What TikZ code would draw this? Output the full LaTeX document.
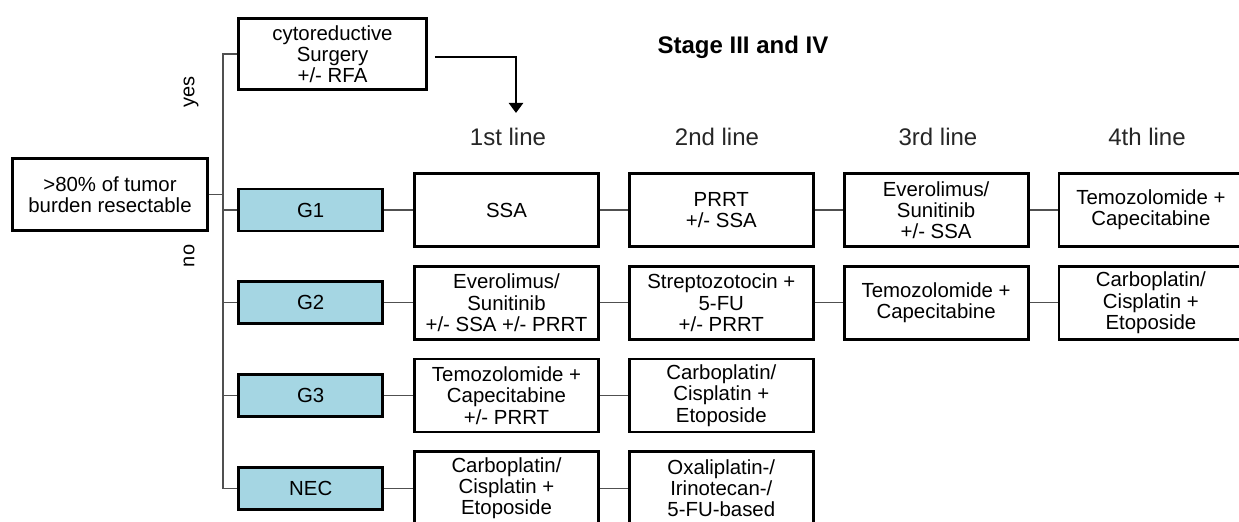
\documentclass[tikz,border=0pt]{standalone}
\usepackage{fontspec}
\setmainfont{Liberation Sans}
\usepackage{xcolor}
\usepackage{tikz}
\usetikzlibrary{arrows.meta, positioning}
\definecolor{gradeblue}{RGB}{165,214,227}
\definecolor{conngray}{RGB}{80,80,80}

\begin{document}
\begin{tikzpicture}[
  x=0.5pt, y=-0.5pt,
  node distance=8.5pt and 14pt,
  box/.style={rectangle, draw, line width=1.4pt, minimum width=92pt, minimum height=36.5pt, font=\fontsize{10.2}{10.6}\selectfont, align=center, inner sep=1pt},
  gbox/.style={box, fill=gradeblue, minimum width=72pt, minimum height=21pt},
  head/.style={font=\fontsize{12}{14}\selectfont, text=black!85},
  side/.style={font=\fontsize{10}{12}\selectfont, rotate=90},
  conn/.style={draw=conngray, line width=0.7pt},
  arr/.style={-{Triangle[length=5pt, width=7pt]}, line width=1.4pt}
]
\useasboundingbox (0,0) rectangle (1239,522);
\node[box, minimum width=97.5pt, minimum height=36pt] (resect) at (110,194.5) {>80\% of tumor\\burden resectable};
\node[box, minimum width=94pt, minimum height=35.5pt] (cyto) at (332.5,54) {cytoreductive\\Surgery\\+/- RFA};
\node[font=\fontsize{12}{14}\selectfont\bfseries] (stage) at (743,47) {Stage III and IV};
\node[side] (yes) at (191,92) {yes};
\node[side] (no) at (189,256) {no};
\coordinate (trunk) at (223,0);
\coordinate (tip1) at (516,113);
\node[head] (h1) at (508,137) {1st line};
\node[head] (h2) at (717,137) {2nd line};
\node[head] (h3) at (938,137) {3rd line};
\node[head] (h4) at (1147,137) {4th line};
\node[box] (r1c1) at (506.5,210) {SSA};
\node[box, right=of r1c1] (r1c2) {PRRT\\+/- SSA};
\node[box, right=of r1c2] (r1c3) {Everolimus/\\Sunitinib\\+/- SSA};
\node[box, right=of r1c3] (r1c4) {Temozolomide +\\Capecitabine};
\node[box, below=of r1c1] (r2c1) {Everolimus/\\Sunitinib\\+/- SSA +/- PRRT};
\node[box, below=of r1c2] (r2c2) {Streptozotocin +\\5-FU\\+/- PRRT};
\node[box, below=of r1c3] (r2c3) {Temozolomide +\\Capecitabine};
\node[box, below=of r1c4] (r2c4) {Carboplatin/\\Cisplatin +\\Etoposide};
\node[box, below=of r2c1] (r3c1) {Temozolomide +\\Capecitabine\\+/- PRRT};
\node[box, below=of r2c2] (r3c2) {Carboplatin/\\Cisplatin +\\Etoposide};
\node[box, below=of r3c1] (r4c1) {Carboplatin/\\Cisplatin +\\Etoposide};
\node[box, below=of r3c2] (r4c2) {Oxaliplatin-/\\Irinotecan-/\\5-FU-based};
\node[gbox, left=14.5pt of r1c1] (g1) {G1};
\node[gbox, left=14.5pt of r2c1] (g2) {G2};
\node[gbox, left=14.5pt of r3c1] (g3) {G3};
\node[gbox, left=14.5pt of r4c1] (nec) {NEC};
\draw[conn] (cyto.west) -| (trunk |- nec.west) -- (nec.west);
\draw[conn] (resect.east) -- (resect.east -| trunk);
\foreach \g in {g1, g2, g3}
  \draw[conn] (\g.west -| trunk) -- (\g.west);
\draw[conn] (g1) -- (r1c1) -- (r1c2) -- (r1c3) -- (r1c4);
\draw[conn] (g2) -- (r2c1) -- (r2c2) -- (r2c3) -- (r2c4);
\draw[conn] (g3) -- (r3c1) -- (r3c2);
\draw[conn] (nec) -- (r4c1) -- (r4c2);
\draw[arr] ([xshift=3.5pt, yshift=-1.5pt]cyto.east) -| (tip1);
\end{tikzpicture}
\end{document}
